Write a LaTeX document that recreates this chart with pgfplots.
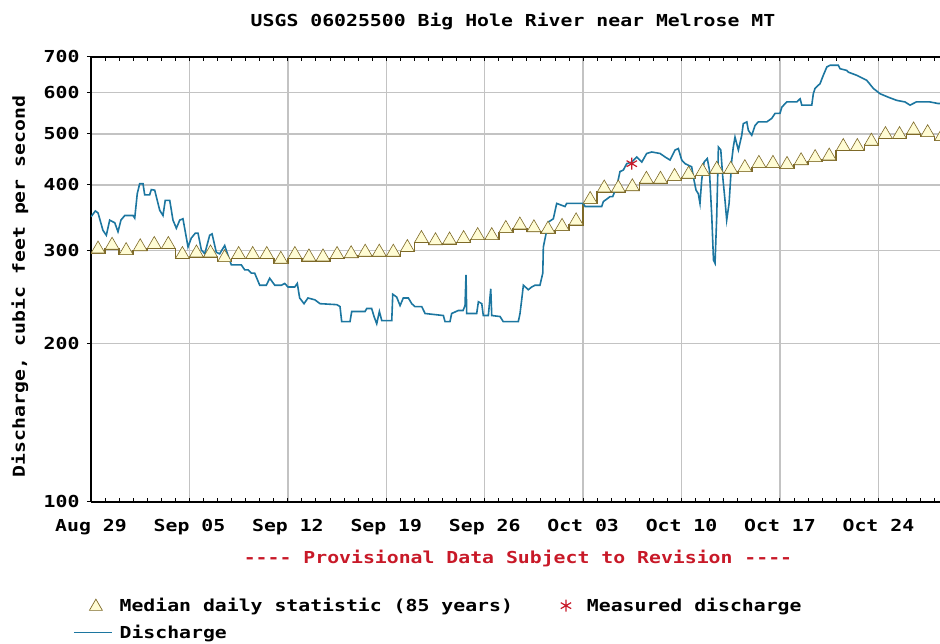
\documentclass[border=0pt]{standalone}
\usepackage{pgfplots}
\pgfplotsset{compat=1.18}
\usepackage{pgfplotstable}
\usepackage{fontspec}
\newfontfamily\usgs[FakeStretch=1.2]{DejaVu Sans Mono}
\newcommand\ufont{\usgs\bfseries\fontsize{16.5}{19}\selectfont}
\definecolor{flow}{RGB}{28,118,160}
\definecolor{medline}{RGB}{125,105,40}
\definecolor{medfill}{RGB}{255,252,212}
\definecolor{provred}{RGB}{200,25,40}
\definecolor{gridgray}{RGB}{195,195,195}

% median daily statistic, day 0 = Aug 29
\pgfplotstableread{
d v
0 297
1 302
2 295
3 300
4 303
5 303
6 290
7 292
8 292
9 286
10 290
11 290
12 290
13 284
14 290
15 287
16 287
17 290
18 291
19 293
20 293
21 293
22 299
23 311
24 308
25 309
26 311
27 315
28 315
29 325
30 330
31 326
32 324
33 328
34 336
35 369
36 388
37 388
38 390
39 403
40 403
41 408
42 412
43 417
44 421
45 421
46 424
47 432
48 432
49 430
50 437
51 443
52 446
53 465
54 465
55 476
56 490
57 490
58 500
59 494
60 486
61 486
}\median

\begin{document}
\begin{tikzpicture}
\path[use as bounding box] (-91pt,-142pt) rectangle (849pt,502pt);
\begin{axis}[
  name=ax,
  at={(0,0)}, anchor=south west,
  scale only axis, width=849pt, height=445pt,
  xmin=0, xmax=60.38,
  ymode=log, ymin=100, ymax=700,
  axis x line*=box, axis y line*=left,
  axis line style={black, line width=1.8pt},
  xtick={0,7,14,21,28,35,42,49,56},
  xticklabels={Aug 29,Sep 05,Sep 12,Sep 19,Sep 26,Oct 03,Oct 10,Oct 17,Oct 24},
  minor xtick={0,1,...,60},
  ytick={100,200,300,400,500,600,700},
  yticklabels={100,200,300,400,500,600,700},
  xtick pos=both, xtick align=inside, ytick align=outside,
  major tick length=4pt, minor tick length=4pt,
  every tick/.style={black, line width=1pt},
  ticklabel style={font=\ufont},
  xticklabel style={yshift=-14pt},
  yticklabel style={xshift=-4pt},
  grid=major,
  major grid style={gridgray, line width=1.3pt},
  legend columns=2,
  legend cell align=left,
  legend style={draw=none, fill=none, font=\ufont,
    at={(axis description cs:0,0)}, anchor=north west,
    xshift=-21pt, yshift=-94pt,
    nodes={inner sep=0pt},
    row sep=12pt,
    /tikz/every odd column/.append style={column sep=7pt},
    /tikz/every even column/.append style={column sep=34pt}},
]
\addlegendimage{legend image code/.code={
  \path[draw=none, fill=none] (0pt,-6pt) rectangle (38pt,6pt);
  \draw[draw=medline, fill=medfill, line width=0.7pt, mark=triangle*, mark size=7.5pt]
    plot coordinates {(22pt,-1pt)};}}
\addlegendentry{Median daily statistic (85 years)}
\addlegendimage{legend image code/.code={
  \path[draw=none, fill=none] (0pt,-6pt) rectangle (33pt,6pt);
  \draw[draw=provred, line width=1.2pt, mark=asterisk, mark size=6pt]
    plot coordinates {(19pt,0pt)};}}
\addlegendentry{Measured discharge}
\addlegendimage{legend image code/.code={
  \draw[draw=flow, line width=1.4pt] (0pt,0pt) -- (38pt,0pt);}}
\addlegendentry{Discharge}

\addplot[forget plot, only marks, mark=triangle*, mark size=8pt,
  mark options={draw=medline, fill=medfill, line width=0.6pt,
    xshift=7.03pt, yshift=4pt}]
  table[x=d, y=v] {\median};
\addplot[forget plot, const plot mark left, medline, line width=1.5pt]
  table[x=d, y=v] {\median};

\addplot[forget plot, flow, line width=1.6pt] coordinates {
(0.00,348) (0.31,357) (0.50,354) (0.85,328) (1.09,321) (1.33,343) (1.69,339)
(1.92,326) (2.13,343) (2.40,350) (2.99,350) (3.11,346) (3.29,385) (3.46,402)
(3.70,402) (3.82,383) (4.17,383) (4.29,392) (4.53,391) (4.89,358) (5.12,350)
(5.28,374) (5.60,374) (5.83,343) (6.07,331) (6.31,343) (6.54,345) (6.90,305)
(7.13,317) (7.42,324) (7.61,324) (7.85,301) (8.09,296) (8.44,321) (8.61,323)
(8.91,298) (9.15,296) (9.51,307) (9.74,294) (9.98,282) (10.69,282) (10.93,276)
(11.17,276) (11.40,272) (11.64,272) (12.00,258) (12.47,258) (12.71,266)
(13.07,258) (13.54,258) (13.78,260) (14.01,256) (14.49,256) (14.67,260)
(14.84,244) (15.15,238) (15.43,244) (15.93,242) (16.29,238) (17.48,237)
(17.71,235) (17.83,220) (18.42,220) (18.54,230) (19.49,230) (19.61,233)
(19.96,233) (20.13,225) (20.32,218) (20.51,230) (20.68,221) (21.39,221)
(21.46,248) (21.74,245) (21.98,236) (22.21,244) (22.57,244) (22.81,238)
(23.04,235) (23.52,235) (23.76,228) (25.06,226) (25.18,220) (25.53,220)
(25.65,228) (26.12,231) (26.46,231) (26.60,236) (26.67,270) (26.72,228)
(27.43,228) (27.55,240) (27.79,238) (27.90,226) (28.26,226) (28.43,254)
(28.50,226) (29.09,225) (29.32,220) (30.39,220) (30.51,228) (30.63,242)
(30.75,258) (31.10,253) (31.34,256) (31.58,258) (31.93,258) (32.13,272)
(32.17,305) (32.36,323) (32.52,340) (32.88,345) (33.12,369) (33.71,364)
(33.83,369) (35.01,369) (35.14,364) (36.32,364) (36.44,372) (36.91,380)
(37.10,380) (37.39,397) (37.62,424) (37.86,427) (38.10,439) (38.46,442)
(38.81,452) (39.17,442) (39.52,459) (39.88,462) (40.47,459) (40.83,452)
(41.18,446) (41.54,466) (41.77,469) (42.01,446) (42.25,439) (42.48,436)
(42.72,433) (42.84,414) (43.03,391) (43.19,385) (43.31,369) (43.43,408)
(43.60,442) (43.83,449) (43.98,427) (44.15,348) (44.27,288) (44.38,284)
(44.50,348) (44.62,472) (44.79,466) (44.93,414) (45.09,374) (45.21,343)
(45.38,369) (45.57,446) (45.68,472) (45.80,493) (46.04,466) (46.28,497)
(46.39,523) (46.64,527) (46.75,508) (46.99,497) (47.23,519) (47.46,527)
(48.06,527) (48.41,535) (48.65,547) (49.00,547) (49.13,562) (49.48,575)
(50.19,575) (50.43,583) (50.55,567) (51.26,567) (51.37,596) (51.49,610)
(51.85,623) (52.08,646) (52.33,670) (52.56,675) (53.15,675) (53.27,665)
(53.75,660) (53.86,655) (54.46,646) (55.17,632) (55.64,610) (56.12,596)
(56.71,587) (57.30,579) (57.89,575) (58.25,567) (58.69,575) (59.20,575)
(59.67,575) (60.26,571) (60.60,571)
};

\addplot[forget plot, only marks, mark=asterisk, mark size=6pt,
  mark options={provred, line width=1.2pt}] coordinates {(38.46,439)};
\end{axis}
\node[font=\ufont] at ([xshift=-2.5pt, yshift=35pt]ax.north)
  {USGS 06025500 Big Hole River near Melrose MT};
\node[font=\ufont, rotate=90] at ([xshift=-71pt, yshift=-7pt]ax.west)
  {Discharge, cubic feet per second};
\node[font=\ufont, text=provred] at ([xshift=2.5pt, yshift=-57pt]ax.south)
  {---- Provisional Data Subject to Revision ----};
\end{tikzpicture}
\end{document}
